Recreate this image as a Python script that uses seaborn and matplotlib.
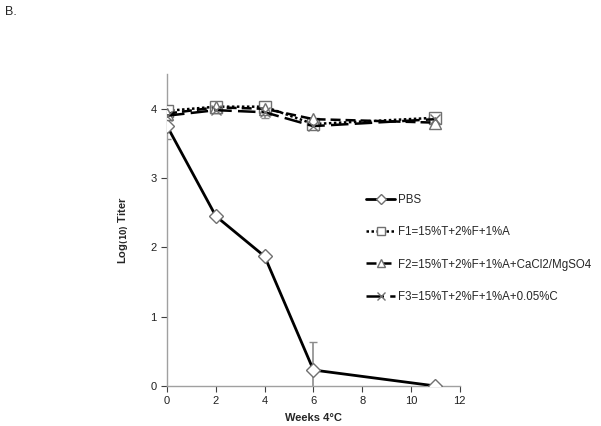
import matplotlib
matplotlib.use("Agg")
import matplotlib.pyplot as plt
import seaborn as sns
import pandas as pd
from matplotlib.lines import Line2D

weeks = [0, 2, 4, 6, 11]
pbs = [3.75, 2.45, 1.87, 0.23, 0.0]
f1 = [3.97, 4.03, 4.03, 3.78, 3.87]
f2 = [3.93, 4.02, 4.00, 3.85, 3.80]
f3 = [3.90, 3.98, 3.95, 3.75, 3.85]
pbs_err = [0.18, 0.0, 0.0, 0.40, 0.0]
f3_err = [0.05, 0.04, 0.09, 0.04, 0.03]

labels = ["PBS", "F1=15%T+2%F+1%A", "F2=15%T+2%F+1%A+CaCl2/MgSO4",
          "F3=15%T+2%F+1%A+0.05%C"]

sns.set_theme(style="white")
plt.rcParams['font.family'] = ['Liberation Sans', 'DejaVu Sans']

fig = plt.figure(figsize=(6.01, 4.26), dpi=100)
ax = fig.add_axes([0.278, 0.094, 0.487, 0.732])

styles = [
    dict(ls='-', marker='D', ms=7, lw=2.0),
    dict(ls=(0, (1, 1)), marker='s', ms=8, lw=1.8),
    dict(ls=(0, (4, 2)), marker='^', ms=8, lw=1.8),
    dict(ls=(0, (7, 2.5)), marker='x', ms=7, lw=1.8),
]

df = pd.DataFrame({"week": weeks * 4,
                   "titer": pbs + f1 + f2 + f3,
                   "series": sum([[l] * len(weeks) for l in labels], [])})

# error bars (gray)
ax.errorbar(weeks, pbs, yerr=pbs_err, fmt='none', ecolor='#8c8c8c', elinewidth=1.2, capsize=3, zorder=1)
ax.errorbar(weeks, f3, yerr=f3_err, fmt='none', ecolor='#8c8c8c', elinewidth=1.2, capsize=3, zorder=1)

handles = []
for lab, st in zip(labels, styles):
    sub = df[df.series == lab]
    sns.lineplot(data=sub, x="week", y="titer", ax=ax, color='black',
                 linestyle=st['ls'], linewidth=st['lw'], legend=False,
                 marker=st['marker'], markersize=st['ms'],
                 markerfacecolor='white' if st['marker'] != 'x' else 'none',
                 markeredgecolor='#707070', markeredgewidth=1.0, zorder=3)
    handles.append(Line2D([], [], color='black', linestyle=st['ls'], linewidth=st['lw'],
                          marker=st['marker'], markersize=st['ms'] * 0.75,
                          markerfacecolor='white', markeredgecolor='#707070',
                          markeredgewidth=1.0))

ax.set_xlim(0, 12)
ax.set_ylim(0, 4.5)
ax.set_xticks(range(0, 13, 2))
ax.set_yticks(range(0, 5))
ax.tick_params(axis='both', labelsize=8, colors='#404040', length=4, direction='out',
               bottom=True, left=True, width=0.8)
for t in ax.get_xticklabels() + ax.get_yticklabels():
    t.set_color('#202020')
for s in ['top', 'right']:
    ax.spines[s].set_visible(False)
for s in ['left', 'bottom']:
    ax.spines[s].set_color('#a0a0a0')
    ax.spines[s].set_linewidth(1.0)

ax.set_xlabel("Weeks 4°C", fontsize=8, fontweight='bold', labelpad=5)
ax.set_ylabel("Log$_{\\mathbf{(10)}}$ Titer", fontsize=8, fontweight='bold', labelpad=14)

ax.legend(handles, labels, loc='upper left', bbox_to_anchor=(0.68, 0.615), frameon=False,
          fontsize=8.3, handlelength=2.5, labelspacing=1.75, handletextpad=0.25,
          borderaxespad=0, borderpad=0)

fig.text(0.008, 0.985, "B.", fontsize=9, va='top', ha='left')

fig.savefig("out.png", dpi=100)
